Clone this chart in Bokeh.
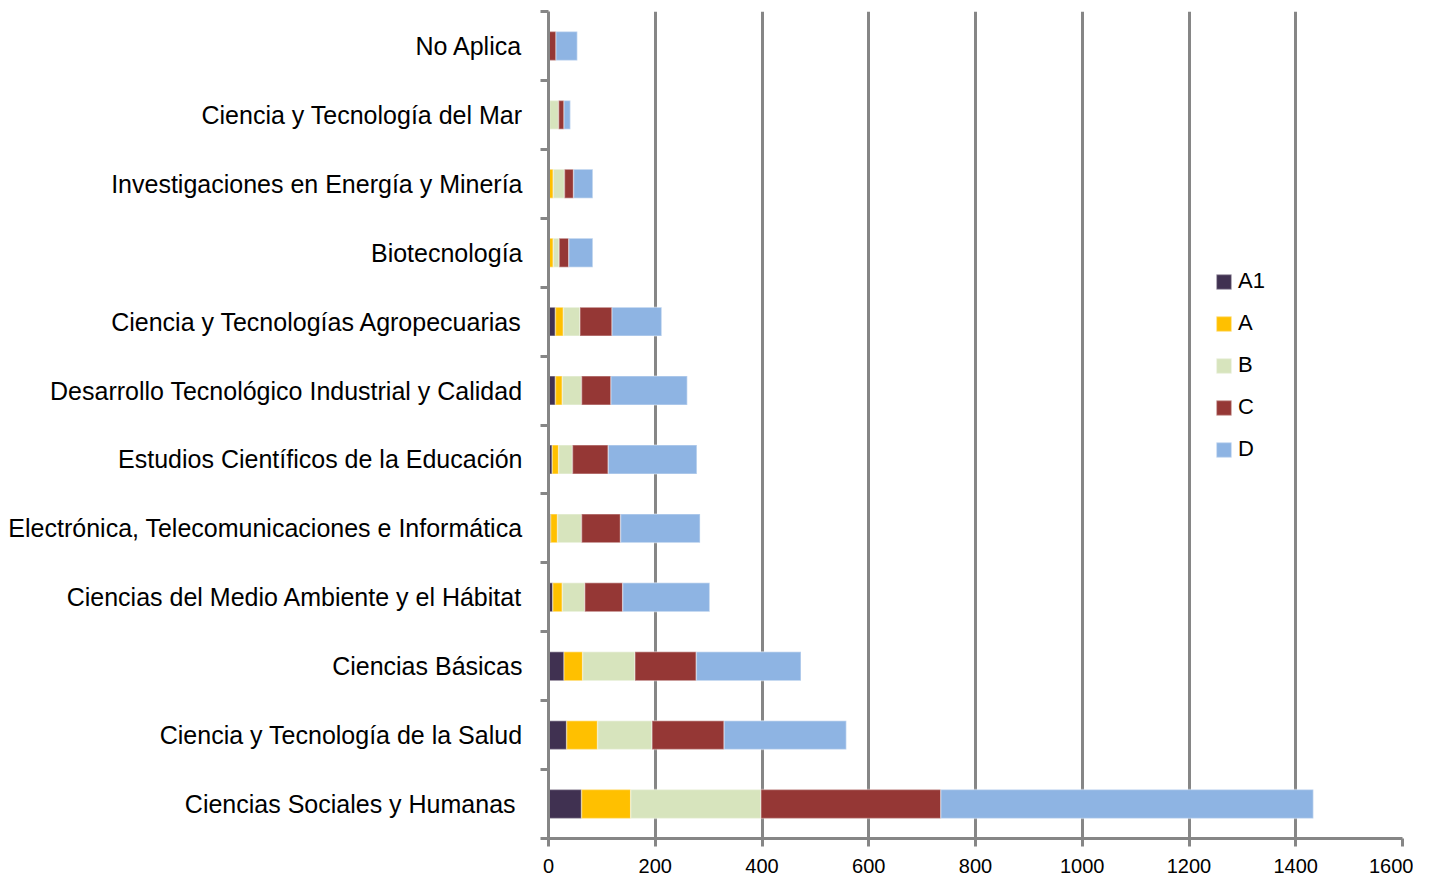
from bokeh.plotting import figure
from bokeh.models import (ColumnDataSource, FactorRange, Range1d, LinearAxis, CategoricalAxis,
                          FixedTicker, Legend, LegendItem)
from bokeh.embed import file_html
from bokeh.resources import INLINE

categories = [
    "Ciencias Sociales  y Humanas",
    "Ciencia y Tecnología de la Salud",
    "Ciencias Básicas",
    "Ciencias del Medio Ambiente y el Hábitat",
    "Electrónica, Telecomunicaciones e Informática",
    "Estudios Científicos de la Educación",
    "Desarrollo Tecnológico Industrial y Calidad",
    "Ciencia y Tecnologías Agropecuarias",
    "Biotecnología",
    "Investigaciones en Energía y Minería",
    "Ciencia y Tecnología del Mar",
    "No Aplica",
]
A1 = [62, 34, 29, 8, 4, 7, 13, 13, 0, 1, 0, 0]
A = [92, 58, 35, 18, 13, 12, 13, 15, 9, 8, 2, 0]
B = [244, 102, 98, 42, 45, 26, 36, 31, 11, 21, 17, 1]
C = [337, 135, 115, 71, 73, 67, 55, 60, 18, 17, 10, 13]
D = [698, 229, 196, 163, 149, 166, 143, 93, 45, 36, 12, 40]
series = ["A1", "A", "B", "C", "D"]
colors = ["#403151", "#FFC000", "#D7E4BD", "#953735", "#8EB4E3"]
x_ticks = [0, 200, 400, 600, 800, 1000, 1200, 1400, 1600]

src = ColumnDataSource(dict(cat=categories, A1=A1, A=A, B=B, C=C, D=D))

GRAY = "#868686"
FONT = "Liberation Sans"

p = figure(width=1413, height=876, output_backend="svg", toolbar_location=None,
           y_range=FactorRange(factors=categories), x_range=Range1d(0, 1600),
           y_axis_location=None, min_border_left=548, min_border_right=11,
           min_border_top=11, min_border_bottom=38)
p.outline_line_color = None
p.background_fill_color = "white"
p.border_fill_color = "white"

rs = p.hbar_stack(series, y="cat", height=0.42, color=colors, source=src,
                  line_color="white", line_alpha=0.35, line_width=1.5)

# tick marks at the boundaries between categories (synthetic coordinates 0..N)
edge_ticks = list(range(len(categories) + 1))
tick_axis = LinearAxis(ticker=FixedTicker(ticks=edge_ticks),
                       axis_line_color=GRAY, axis_line_width=3,
                       major_tick_line_color=GRAY, major_tick_line_width=3,
                       major_tick_out=8, major_tick_in=0, minor_tick_line_color=None,
                       major_label_overrides={t: "" for t in edge_ticks},
                       major_label_text_font_size="0px", major_label_standoff=0)
p.add_layout(tick_axis, "left")
cat_axis = CategoricalAxis(axis_line_color=None, major_tick_line_color=None,
                           minor_tick_line_color=None,
                           major_label_text_font=FONT, major_label_text_font_size="25px",
                           major_label_text_color="black", major_label_standoff=12)
p.add_layout(cat_axis, "left")

p.xaxis.ticker = FixedTicker(ticks=x_ticks)
p.xaxis.axis_line_color = GRAY
p.xaxis.axis_line_width = 3
p.xaxis.major_tick_line_color = GRAY
p.xaxis.major_tick_line_width = 3
p.xaxis.major_tick_out = 8
p.xaxis.major_tick_in = 0
p.xaxis.minor_tick_line_color = None
p.xaxis.major_label_text_font = FONT
p.xaxis.major_label_text_font_size = "20px"
p.xaxis.major_label_text_color = "black"
p.xaxis.major_label_standoff = 12

p.xgrid.ticker = FixedTicker(ticks=x_ticks)
p.xgrid.grid_line_color = GRAY
p.xgrid.grid_line_width = 3
p.ygrid.grid_line_color = None

items = [LegendItem(label=s, renderers=[r]) for s, r in zip(series, rs)]
legend = Legend(items=items, location=(666, 376), padding=0, margin=0, border_line_color=None,
                background_fill_alpha=0, glyph_width=19, glyph_height=19, label_standoff=5,
                label_height=22, spacing=16, label_text_font=FONT, label_text_font_size="22px",
                label_text_color="black")
p.add_layout(legend, "center")

open("out.html", "w").write(file_html(p, INLINE))
